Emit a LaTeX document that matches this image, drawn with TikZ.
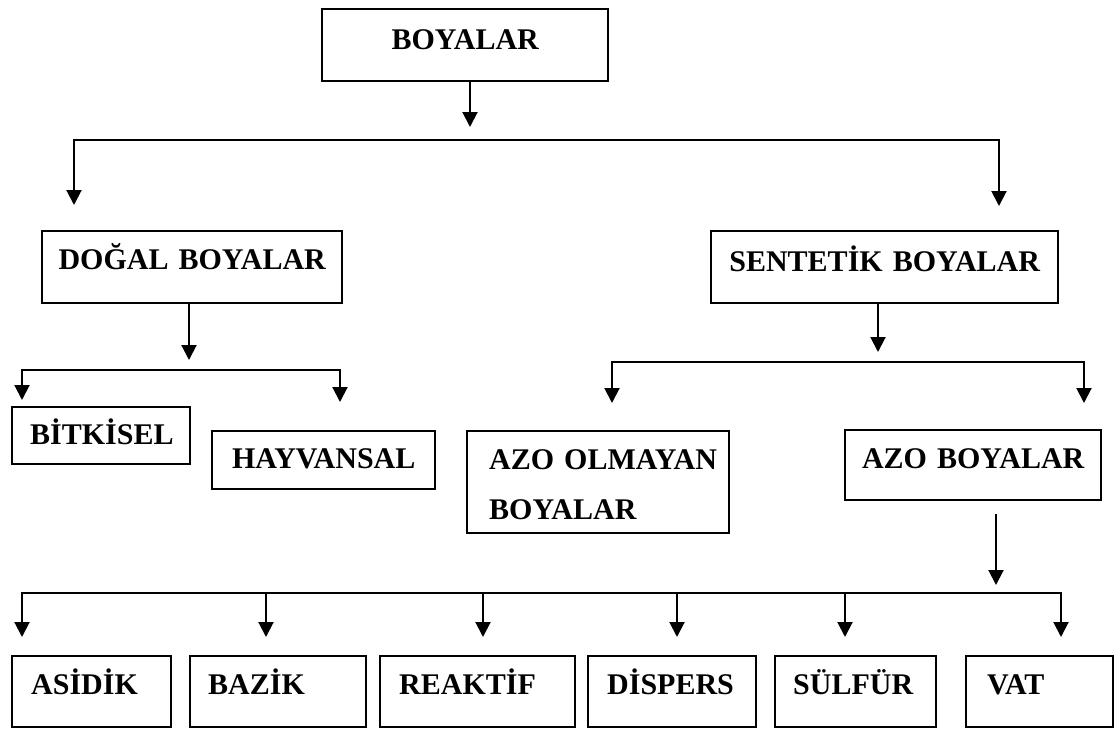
\documentclass[tikz,border=0pt]{standalone}
\usepackage{fontspec}
\setmainfont{Liberation Serif}
\usetikzlibrary{arrows.meta}
\begin{document}
\begin{tikzpicture}[x=1pt,y=-1pt,
 box/.style={draw, line width=2.4pt, inner xsep=0pt, inner ysep=0pt, anchor=north west,
   font=\fontsize{30}{50}\selectfont\bfseries},
 conn/.style={line width=2pt, -{Triangle[width=15pt,length=15pt]}},
 conn2/.style={line width=2pt, {Triangle[width=15pt,length=15pt]}-{Triangle[width=15pt,length=15pt]}},
]
\useasboundingbox (0,0) rectangle (1114,729);
% boxes
\node[box, text width=286pt, align=center, text height=40pt, text depth=32pt] (boy) at (321,8) {BOYALAR};
\node[box, text width=300pt, align=center, text height=38pt, text depth=34pt] (dog) at (41,230) {DOĞAL BOYALAR};
\node[box, text width=347pt, align=center, text height=40pt, text depth=32pt] (sen) at (710,230) {SENTETİK BOYALAR};
\node[box, text width=178pt, align=left, text height=37pt, text depth=20pt] (bit) at (11,406) {\hspace*{18pt}BİTKİSEL};
\node[box, text width=223pt, align=center, text height=37pt, text depth=21pt] (hay) at (211,430) {HAYVANSAL};
\node[box, text width=262pt, align=left, text height=38pt, text depth=64pt] (azoo) at (466,430)
  {\hspace*{22pt}\begin{tabular}[t]{@{}l@{}}AZO OLMAYAN\\BOYALAR\end{tabular}};
\node[box, text width=256pt, align=center, text height=38pt, text depth=32pt] (azo) at (844,429) {AZO BOYALAR};
\node[box, text width=159pt, align=left, text height=38pt, text depth=33pt] (asi) at (11,655) {\hspace*{19pt}ASİDİK};
\node[box, text width=176pt, align=left, text height=38pt, text depth=33pt] (baz) at (189,655) {\hspace*{18pt}BAZİK};
\node[box, text width=195pt, align=left, text height=38pt, text depth=33pt] (rea) at (379,655) {\hspace*{19pt}REAKTİF};
\node[box, text width=168pt, align=left, text height=38pt, text depth=33pt] (dis) at (587,655) {\hspace*{19pt}DİSPERS};
\node[box, text width=161pt, align=left, text height=38pt, text depth=33pt] (sul) at (774,655) {\hspace*{18pt}SÜLFÜR};
\node[box, text width=147pt, align=left, text height=38pt, text depth=33pt] (vat) at (965,655) {\hspace*{21pt}VAT};
% bus coordinates
\coordinate (b1) at (470,140); \coordinate (b1l) at (74,140); \coordinate (b1r) at (999,140);
\coordinate (b2) at (189,370); \coordinate (b2l) at (22,370); \coordinate (b2r) at (340,370);
\coordinate (b3) at (878,362); \coordinate (b3l) at (612,362); \coordinate (b3r) at (1084,362);
\coordinate (b4) at (996,593); \coordinate (b4l) at (22,593); \coordinate (b4r) at (1061,593);
\coordinate (c2) at (266,593); \coordinate (c3) at (483,593); \coordinate (c4) at (677,593); \coordinate (c5) at (845,593);
% connectors
\draw[conn, shorten >=13pt] (boy.south -| b1) -- (b1);
\draw[conn2, shorten <=25pt, shorten >=24pt] (dog.north -| b1l) -- (b1l) -- (b1r) -- (sen.north -| b1r);
\draw[conn, shorten >=10pt] (dog.south -| b2) -- (b2);
\draw[conn2, shorten <=6pt, shorten >=28pt] (bit.north -| b2l) -- (b2l) -- (b2r) -- (hay.north -| b2r);
\draw[conn, shorten >=10pt] (sen.south -| b3) -- (b3);
\draw[conn2, shorten <=27pt, shorten >=26pt] (azoo.north -| b3l) -- (b3l) -- (b3r) -- (azo.north -| b3r);
\draw[conn, shorten <=13pt, shorten >=8pt] (azo.south -| b4) -- (b4);
\draw[conn2, shorten <=18pt, shorten >=18pt] (asi.north -| b4l) -- (b4l) -- (b4r) -- (vat.north -| b4r);
\draw[conn, shorten >=18pt] (c2) -- (baz.north -| c2);
\draw[conn, shorten >=18pt] (c3) -- (rea.north -| c3);
\draw[conn, shorten >=18pt] (c4) -- (dis.north -| c4);
\draw[conn, shorten >=18pt] (c5) -- (sul.north -| c5);
\end{tikzpicture}
\end{document}
